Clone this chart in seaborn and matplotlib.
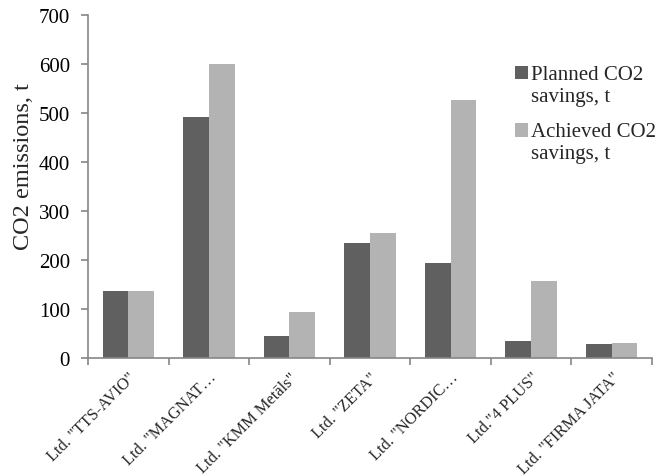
import matplotlib
matplotlib.use("Agg")
import matplotlib.pyplot as plt
import matplotlib.patches as mpatches
from matplotlib.legend_handler import HandlerPatch
import seaborn as sns
import pandas as pd

# Data
companies = ['Ltd. "TTS-AVIO"', 'Ltd. "MAGNAT\u2026', 'Ltd. "KMM Metāls"', 'Ltd. "ZETA"',
             'Ltd. "NORDIC\u2026', 'Ltd."4 PLUS"', 'Ltd. "FIRMA JATA"']
planned = [136, 491, 45, 234, 193, 35, 29]
achieved = [136, 601, 93, 255, 526, 157, 30]
series_names = ["Planned CO2\nsavings, t", "Achieved CO2\nsavings, t"]
colors = ["#606060", "#b3b3b3"]

df = pd.DataFrame({
    "company": companies * 2,
    "value": planned + achieved,
    "series": [series_names[0]] * len(companies) + [series_names[1]] * len(companies),
})

sns.set_theme(style="white")
serif = ["Liberation Serif", "DejaVu Serif"]
plt.rcParams["font.family"] = serif

fig = plt.figure(figsize=(6.57, 4.77), dpi=100)
ax = fig.add_axes([88 / 657, 1 - 359 / 477, (652 - 88) / 657, (359 - 16) / 477])

sns.barplot(data=df, x="company", y="value", hue="series", order=companies,
            hue_order=series_names, palette=colors, width=0.64, gap=0,
            errorbar=None, saturation=1, linewidth=0, ax=ax, legend=True)

axis_grey = "#868686"
ax.set_xlim(-0.5, len(companies) - 0.5)
ax.set_ylim(0, 700)
ax.set_yticks(range(0, 701, 100))
ax.tick_params(axis="y", labelsize=15, length=5, width=1.2, color=axis_grey,
               direction="out", left=True, pad=8, labelcolor="black")

# Category labels at centres, tick marks at category boundaries
ax.set_xticks(range(len(companies)))
ax.set_xticklabels(companies, rotation=45, ha="right", va="top",
                   rotation_mode="anchor", fontsize=11.8)
ax.tick_params(axis="x", which="major", length=0, pad=8)
ax.set_xticks([i - 0.5 for i in range(len(companies) + 1)], minor=True)
ax.tick_params(axis="x", which="minor", length=5, width=1.2, color=axis_grey,
               direction="out", bottom=True)

for side in ["top", "right"]:
    ax.spines[side].set_visible(False)
for side in ["left", "bottom"]:
    ax.spines[side].set_color(axis_grey)
    ax.spines[side].set_linewidth(1.2)

ax.set_xlabel("")
ax.set_ylabel("CO2 emissions, t", fontsize=17.5)
ax.yaxis.set_label_coords(-0.095, 0.56)


def top_square(legend, orig_handle, xdescent, ydescent, width, height, fontsize):
    # keep the swatch level with the first line of a two-line label
    return mpatches.Rectangle((-xdescent, -ydescent + 0.6 * fontsize), width, height)


handles = [mpatches.Patch(facecolor=c, edgecolor="none") for c in colors]
ax.get_legend().remove()
leg = ax.legend(handles, series_names, loc="upper left",
                bbox_to_anchor=((515 - 88) / 564, (359 - 66) / 343),
                frameon=False, prop={"family": serif, "size": 15},
                borderpad=0, borderaxespad=0,
                handlelength=0.6, handleheight=0.6, handletextpad=0.15,
                labelspacing=0.8,
                handler_map={mpatches.Patch: HandlerPatch(patch_func=top_square)})

fig.savefig("out.png", dpi=100)
